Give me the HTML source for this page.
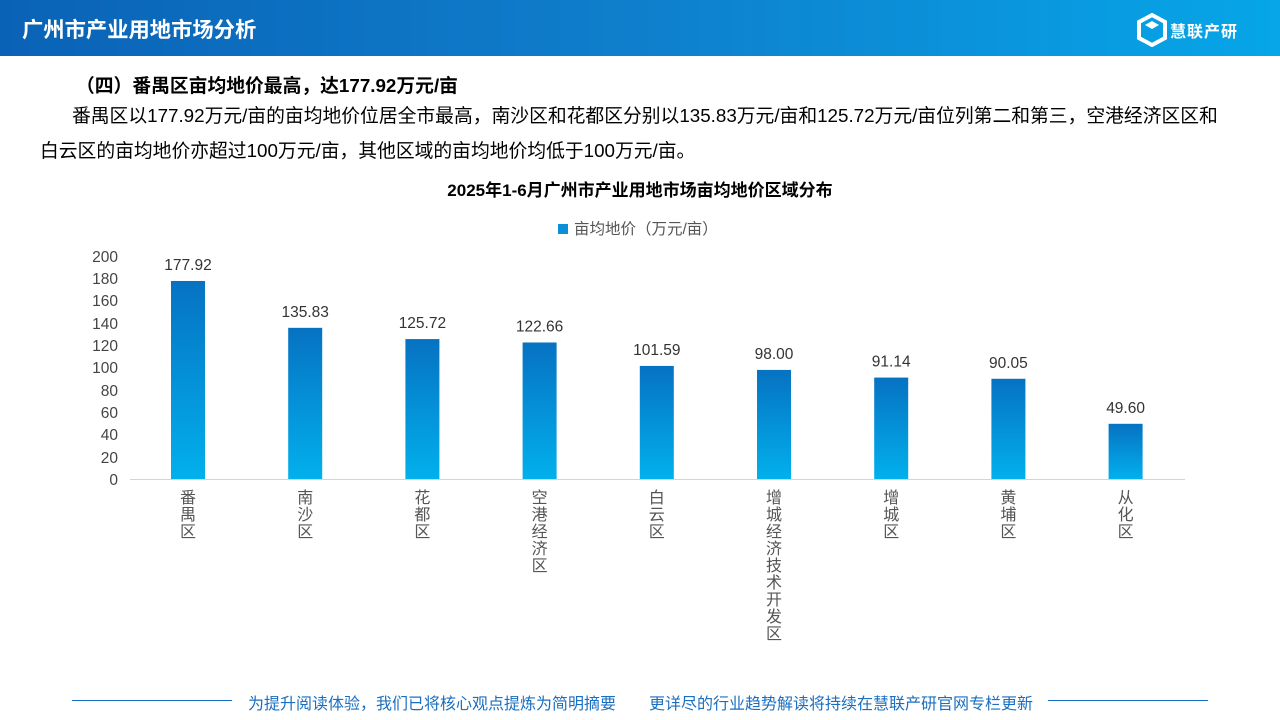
<!DOCTYPE html>
<html><head><meta charset="utf-8"><style>
*{margin:0;padding:0;box-sizing:border-box}
body{width:1280px;height:720px;background:#fff;position:relative;overflow:hidden;font-family:"Liberation Sans","Noto Sans CJK SC",sans-serif;color:#000}
.hdr{position:absolute;left:0;top:0;width:1280px;height:56px;background:linear-gradient(90deg,#0a62b6 0%,#0f7fcc 50%,#06a6e8 100%)}
.hdr .t{position:absolute;left:22px;top:13px;color:#fff;font-size:21.3px;font-weight:bold}
.logo{position:absolute;left:1136px;top:13px;color:#fff}
.logo .n{position:absolute;left:34px;top:5px;font-size:16px;font-weight:bold;white-space:nowrap;letter-spacing:1px}
.h2{position:absolute;left:76px;top:71px;font-size:18.8px;font-weight:bold;white-space:nowrap}
.p{position:absolute;left:40px;top:98px;width:1192px;font-size:18.8px;line-height:35px;text-indent:32px}
.ct{position:absolute;left:0;width:1280px;top:176px;text-align:center;font-size:17px;font-weight:bold}
.lg{position:absolute;left:558px;top:217px;font-size:15.5px;color:#555;white-space:nowrap}
.lg i{display:inline-block;width:10px;height:10px;background:#0a8fd8;margin-right:6px;vertical-align:0}
.ft{position:absolute;top:690px;left:0;width:1280px;font-size:16px;color:#1a6fc0;white-space:nowrap}
.ft .l{position:absolute;top:10px;height:1px;background:#1a6fc0}
</style></head><body>
<div class="hdr"><div class="t">广州市产业用地市场分析</div>
<div class="logo"><svg width="32" height="34" viewBox="0 0 32 34"><path d="M16 2 L29 9 L29 25 L16 32 L3 25 L3 9 Z" fill="none" stroke="#fff" stroke-width="4"/><path d="M9 12 L16 8 L23 12 L16 16 Z" fill="#fff"/></svg><span class="n">慧联产研</span></div></div>
<div class="h2">（四）番禺区亩均地价最高，达177.92万元/亩</div>
<div class="p">番禺区以177.92万元/亩的亩均地价位居全市最高，南沙区和花都区分别以135.83万元/亩和125.72万元/亩位列第二和第三，空港经济区区和<br>白云区的亩均地价亦超过100万元/亩，其他区域的亩均地价均低于100万元/亩。</div>
<div class="ct">2025年1-6月广州市产业用地市场亩均地价区域分布</div>
<div class="lg"><i></i>亩均地价（万元/亩）</div>
<svg style="position:absolute;left:0;top:0" width="1280" height="720" font-family="Liberation Sans,Noto Sans CJK SC,sans-serif">
<defs><linearGradient id="g" x1="0" y1="0" x2="0" y2="1"><stop offset="0" stop-color="#0672c2"/><stop offset="1" stop-color="#02b0ec"/></linearGradient></defs>
<g font-size="15.5" fill="#444" text-anchor="end">
<text x="118" y="485">0</text><text x="118" y="463">20</text><text x="118" y="440">40</text><text x="118" y="418">60</text><text x="118" y="396">80</text><text x="118" y="373">100</text><text x="118" y="351">120</text><text x="118" y="329">140</text><text x="118" y="306">160</text><text x="118" y="284">180</text><text x="118" y="262">200</text>
</g>
<line x1="130" y1="479.5" x2="1185" y2="479.5" stroke="#d4d4d4"/>
<g id="bars"></g>
</svg>
<div class="ft"><div class="l" style="left:72px;width:160px"></div><span style="position:absolute;left:248px">为提升阅读体验，我们已将核心观点提炼为简明摘要</span><span style="position:absolute;left:649px">更详尽的行业趋势解读将持续在慧联产研官网专栏更新</span><div class="l" style="left:1048px;width:160px"></div></div>
<script>
var d=[["番禺区",177.92],["南沙区",135.83],["花都区",125.72],["空港经济区",122.66],["白云区",101.59],["增城经济技术开发区",98.00],["增城区",91.14],["黄埔区",90.05],["从化区",49.60]];
var s="";d.forEach(function(e,i){var c=188+i*117.2,h=e[1]*1.113,y=479-h;
s+='<rect x="'+(c-17)+'" y="'+y+'" width="34" height="'+h+'" fill="url(#g)"/>';
s+='<text x="'+c+'" y="'+(y-11)+'" font-size="15.5" fill="#333" text-anchor="middle">'+e[1].toFixed(2)+'</text>';
for(var k=0;k<e[0].length;k++)s+='<text x="'+c+'" y="'+(503+k*17)+'" font-size="16" fill="#555" text-anchor="middle">'+e[0][k]+'</text>';});
document.getElementById("bars").innerHTML=s;
</script>
</body></html>
